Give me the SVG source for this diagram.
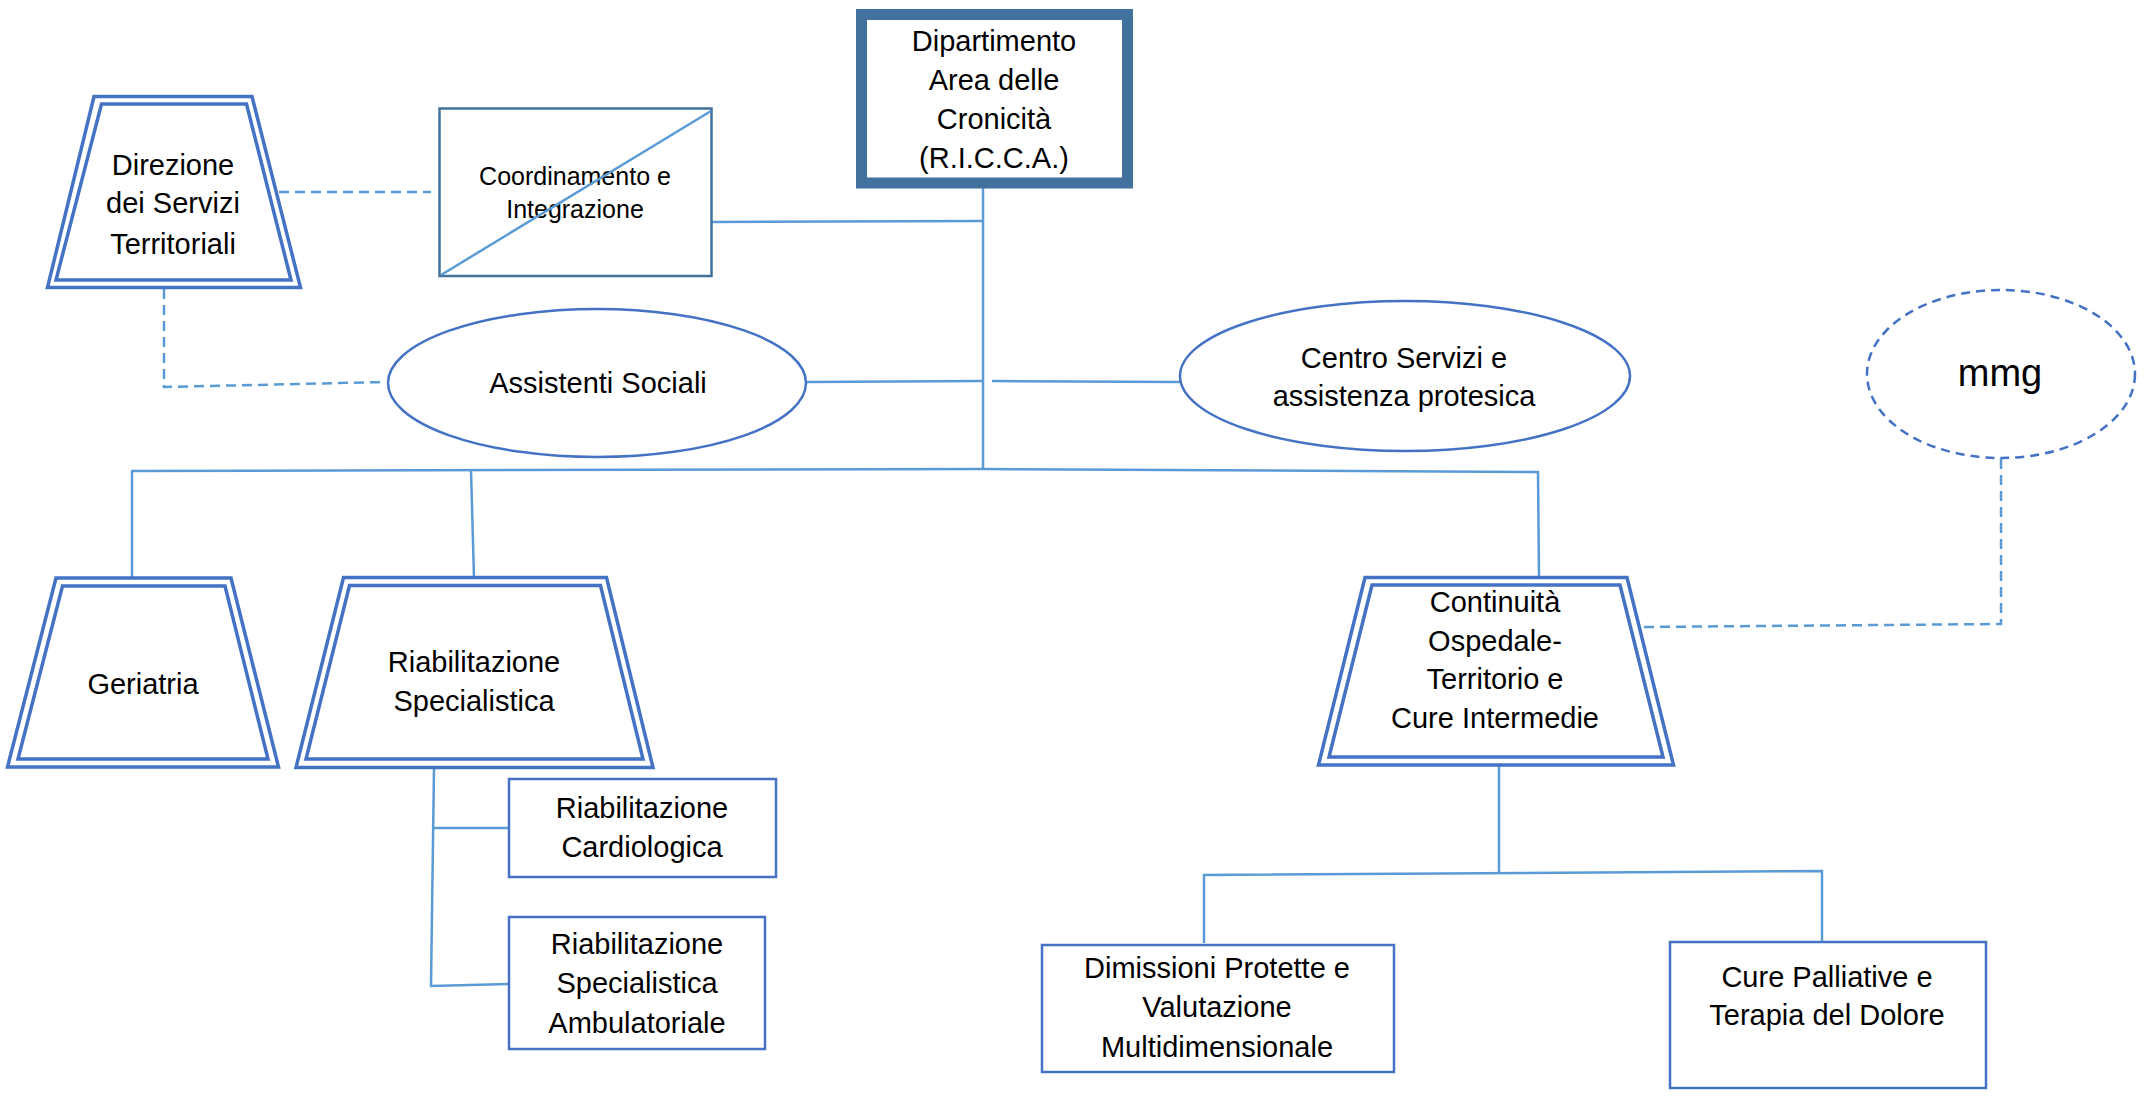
<svg xmlns="http://www.w3.org/2000/svg" width="2145" height="1096" viewBox="0 0 2145 1096">
<style>
  text { font-family: "Liberation Sans", Arial, sans-serif; font-size: 29px; fill: #000; text-anchor: middle; }
  .trap { fill: none; stroke: #4472C4; stroke-width: 3.5; stroke-linejoin: miter; }
  .box { fill: #fff; stroke: #4472C4; stroke-width: 2.5; }
  .ell { fill: #fff; stroke: #4472C4; stroke-width: 2.5; }
  .conn { fill: none; stroke: #5B9BD5; stroke-width: 2.5; }
  .dash { fill: none; stroke: #5B9BD5; stroke-width: 2.5; stroke-dasharray: 10 6; }
</style>
<rect width="2145" height="1096" fill="#fff"/>

<g id="connectors">
  <line class="conn" x1="983" y1="188" x2="983" y2="470"/>
  <line class="conn" x1="712" y1="222" x2="983" y2="221"/>
  <line class="conn" x1="807" y1="382" x2="983" y2="381"/>
  <line class="conn" x1="992" y1="381" x2="1180" y2="382"/>
  <polyline class="conn" points="131,471 983,469 1538,472 1539,577"/>
  <line class="conn" x1="132" y1="471" x2="132" y2="578"/>
  <line class="conn" x1="471" y1="470" x2="474" y2="578"/>
  <polyline class="conn" points="434,768 431,986 509,984"/>
  <line class="conn" x1="434" y1="828" x2="509" y2="828"/>
  <line class="conn" x1="1499" y1="766" x2="1499" y2="874"/>
  <polyline class="conn" points="1204,943 1204,875 1822,871 1822,942"/>
  <line class="dash" x1="279" y1="192" x2="431" y2="192"/>
  <polyline class="dash" points="164,289 164,387 386,382"/>
  <polyline class="dash" points="2001,459 2001,624 1642,627"/>
</g>

<g id="dipartimento">
  <rect x="861.5" y="14.5" width="266" height="168.5" fill="#fff" stroke="#41719C" stroke-width="11"/>
  <text x="994" y="51">Dipartimento</text>
  <text x="994" y="90">Area delle</text>
  <text x="994" y="129">Cronicità</text>
  <text x="994" y="168">(R.I.C.C.A.)</text>
</g>

<g id="direzione">
  <polygon class="trap" fill="#fff" points="94,96.5 252,96.5 300.5,287.5 47.5,287.5" style="fill:#fff"/>
  <polygon class="trap" points="101.5,104 246.5,104 291,280 56,280"/>
  <text x="173" y="175">Direzione</text>
  <text x="173" y="213">dei Servizi</text>
  <text x="173" y="254">Territoriali</text>
</g>

<g id="coordinamento">
  <rect x="439.5" y="108.5" width="272" height="167.5" fill="#fff" stroke="#41719C" stroke-width="2.5"/>
  <text x="575" y="185" style="font-size:25px">Coordinamento e</text>
  <text x="575" y="218" style="font-size:25px">Integrazione</text>
  <line class="conn" x1="441" y1="275" x2="711" y2="111"/>
</g>

<g id="assistenti">
  <ellipse class="ell" cx="597" cy="383" rx="209" ry="74"/>
  <text x="598" y="393">Assistenti Sociali</text>
</g>

<g id="centro">
  <ellipse class="ell" cx="1405" cy="376" rx="225" ry="75"/>
  <text x="1404" y="368">Centro Servizi e</text>
  <text x="1404" y="406">assistenza protesica</text>
</g>

<g id="mmg">
  <ellipse cx="2001" cy="374" rx="134" ry="84" fill="#fff" stroke="#4472C4" stroke-width="2.5" stroke-dasharray="9 6"/>
  <text x="2000" y="386" style="font-size:38px">mmg</text>
</g>

<g id="geriatria">
  <polygon class="trap" points="56,578 231,578 278.5,767 7.5,767" style="fill:#fff"/>
  <polygon class="trap" points="62.5,586 225,586 268,759 18,759"/>
  <text x="143" y="694">Geriatria</text>
</g>

<g id="riab-spec">
  <polygon class="trap" points="343.5,577.5 606.5,577.5 653,767.5 296,767.5" style="fill:#fff"/>
  <polygon class="trap" points="349.5,585.5 600.5,585.5 643,759 306,759"/>
  <text x="474" y="672">Riabilitazione</text>
  <text x="474" y="711">Specialistica</text>
</g>

<g id="riab-cardio">
  <rect class="box" x="509" y="779" width="267" height="98"/>
  <text x="642" y="818">Riabilitazione</text>
  <text x="642" y="857">Cardiologica</text>
</g>

<g id="riab-amb">
  <rect class="box" x="509" y="917" width="256" height="132"/>
  <text x="637" y="954">Riabilitazione</text>
  <text x="637" y="993">Specialistica</text>
  <text x="637" y="1033">Ambulatoriale</text>
</g>

<g id="continuita">
  <polygon class="trap" points="1365,577.5 1627,577.5 1673.5,765 1318.5,765" style="fill:#fff"/>
  <polygon class="trap" points="1372,585 1620,585 1663,757 1329,757"/>
  <text x="1495" y="612">Continuità</text>
  <text x="1495" y="651">Ospedale-</text>
  <text x="1495" y="689">Territorio e</text>
  <text x="1495" y="728">Cure Intermedie</text>
</g>

<g id="dimissioni">
  <rect class="box" x="1042" y="945" width="352" height="127"/>
  <text x="1217" y="978">Dimissioni Protette e</text>
  <text x="1217" y="1017">Valutazione</text>
  <text x="1217" y="1057">Multidimensionale</text>
</g>

<g id="cure-palliative">
  <rect class="box" x="1670" y="942" width="316" height="146"/>
  <text x="1827" y="987">Cure Palliative e</text>
  <text x="1827" y="1025">Terapia del Dolore</text>
</g>
</svg>
